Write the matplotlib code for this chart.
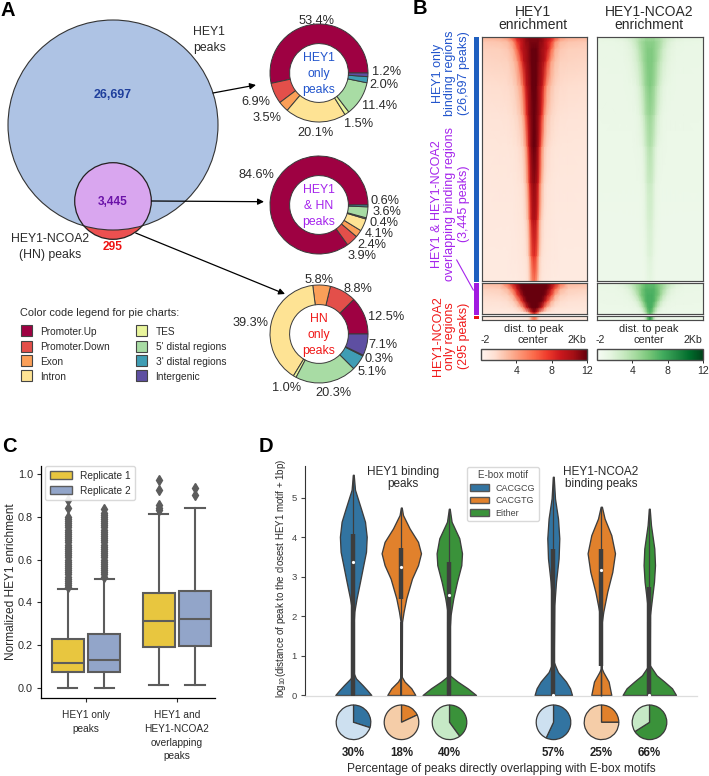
import numpy as np
import matplotlib
matplotlib.use("Agg")
import matplotlib.pyplot as plt
from matplotlib.cm import ScalarMappable
from matplotlib.colors import Normalize
from matplotlib.patches import Circle, Patch, Rectangle

plt.rcParams["font.family"] = ["Liberation Sans", "DejaVu Sans"]
plt.rcParams["mathtext.fontset"] = "custom"
plt.rcParams["mathtext.rm"] = "Liberation Sans"

W, H = 709, 776
TEXT = "#2a2a2a"

# panel A
venn_counts = ["26,697", "3,445", "295"]
region_names = ["Promoter.Up", "Promoter.Down", "Exon", "Intron", "TES",
                "5' distal regions", "3' distal regions", "Intergenic"]
region_colors = ["#9e0142", "#e34f4a", "#fb9f58", "#fee394", "#e9f59c",
                 "#a8dca4", "#3f9db4", "#5e4fa2"]
hey1_only = [53.4, 6.9, 3.5, 20.1, 1.5, 11.4, 2.0, 1.2]
hey1_hn = [84.6, 3.9, 2.4, 4.1, 0.4, 3.6, 0.6]
hn_only = [12.5, 8.8, 5.8, 39.3, 1.0, 20.3, 5.1, 0.3, 7.1]
hn_only_colors = region_colors[:7] + ["#3f9db4", "#5e4fa2"]

# panel B, half profiles from peak centre outwards, one row per rank
kb_from_center = [0, 0.08, 0.15, 0.22, 0.3, 0.4, 0.5, 0.65, 0.8, 1.0, 1.3, 2.0]
top_ranks = [0, 0.02, 0.05, 0.1, 0.2, 0.32, 0.45, 0.6, 0.75, 0.9, 1.0]
mid_ranks = [0, 0.2, 0.4, 0.6, 0.8, 0.95, 1.0]
low_ranks = [0, 1]
hey1_top = [
    [11.5, 11.5, 11.5, 11.5, 11, 10.5, 10, 9, 7, 4.5, 3.5, 3.2],
    [11.5, 11.5, 11.5, 11, 11, 10, 9, 7.5, 4.5, 3, 2.6, 2.4],
    [12, 12, 11.5, 11, 10.5, 10, 9, 6, 3.5, 2.5, 2.2, 2.1],
    [12, 12, 11.5, 11, 10.5, 9.5, 7, 4, 2.8, 2.1, 2, 1.9],
    [12, 12, 11, 10.5, 9.5, 6.5, 4, 2.7, 2, 1.7, 1.6, 1.5],
    [12, 11.5, 11, 10, 7.5, 4, 2.7, 1.9, 1.6, 1.4, 1.3, 1.2],
    [12, 11.5, 10.5, 8, 4.5, 2.5, 1.8, 1.4, 1.2, 1.1, 1.1, 1],
    [11, 10.5, 9, 5.5, 3, 1.7, 1.3, 1.1, 1, 1, 1, 0.9],
    [10, 9.5, 7, 3.5, 2, 1.3, 1.1, 1, 0.9, 0.9, 0.9, 0.9],
    [8, 7, 4.5, 2.2, 1.4, 1.1, 1, 0.9, 0.9, 0.8, 0.8, 0.8],
    [5.5, 4.5, 2.8, 1.5, 1.1, 0.9, 0.9, 0.8, 0.8, 0.8, 0.8, 0.8],
]
hey1_mid = [
    [12, 12, 12, 12, 12, 12, 12, 11, 9.5, 6, 3.2, 2.8],
    [12, 12, 12, 12, 12, 12, 11.5, 9, 6, 3.2, 2.2, 2],
    [12, 12, 12, 12, 12, 11.5, 10, 7, 3.5, 2.2, 1.8, 1.6],
    [12, 12, 12, 12, 11.5, 9.5, 7, 3.5, 2.2, 1.6, 1.4, 1.3],
    [12, 12, 11.5, 10.5, 8.5, 5, 3, 1.9, 1.4, 1.2, 1.1, 1.1],
    [11, 9, 7, 4, 2.5, 1.6, 1.2, 1, 0.9, 0.9, 0.9, 0.9],
    [7, 5, 3, 1.5, 1, 0.8, 0.8, 0.8, 0.8, 0.8, 0.8, 0.8],
]
hey1_low = [
    [6, 5, 3, 1.5, 1, 0.9, 0.9, 0.8, 0.8, 0.8, 0.8, 0.8],
    [5, 4, 2, 1.2, 0.9, 0.9, 0.8, 0.8, 0.8, 0.8, 0.8, 0.8],
]
ncoa2_top = [
    [4.5, 4.5, 4.5, 4, 4, 3.6, 3.2, 2.7, 2.3, 1.8, 1.5, 1.3],
    [5.2, 5.2, 5.2, 4.8, 4.5, 4, 3.2, 2.3, 1.7, 1.3, 1.2, 1.1],
    [5.5, 5.5, 5.2, 4.8, 4.4, 3.6, 2.7, 1.9, 1.5, 1.2, 1.1, 1.1],
    [5.6, 5.6, 5.2, 4.8, 4, 3.1, 2.3, 1.7, 1.3, 1.1, 1.1, 1],
    [5.6, 5.2, 4.8, 4, 3.1, 2.2, 1.6, 1.2, 1.1, 1, 1, 1],
    [4.7, 4.4, 3.9, 3, 2.2, 1.5, 1.2, 1, 1, 1, 1, 0.9],
    [3.8, 3.4, 2.7, 2, 1.4, 1.1, 1, 0.9, 0.9, 0.9, 0.9, 0.9],
    [2.8, 2.6, 2, 1.4, 1.1, 0.9, 0.9, 0.9, 0.9, 0.9, 0.9, 0.9],
    [2.3, 2.1, 1.6, 1.2, 0.9, 0.8, 0.8, 0.8, 0.8, 0.8, 0.8, 0.8],
    [1.8, 1.6, 1.2, 0.9, 0.8, 0.8, 0.8, 0.8, 0.8, 0.8, 0.8, 0.8],
    [1.4, 1.2, 1, 0.8, 0.8, 0.8, 0.8, 0.8, 0.8, 0.8, 0.8, 0.8],
]
ncoa2_mid = [
    [6.5, 6.5, 6.5, 6, 5.6, 5, 4.5, 3.6, 2.8, 1.9, 1.3, 1.2],
    [7, 7, 7, 6.5, 6, 5, 4.2, 2.8, 1.8, 1.3, 1.1, 1],
    [7.3, 7.3, 7, 6.5, 6, 4.6, 3.2, 2, 1.4, 1.1, 1, 1],
    [7.3, 7.3, 7, 6, 4.6, 3, 2, 1.3, 1.1, 1, 1, 0.9],
    [7.3, 7, 5.5, 4.2, 2.8, 1.7, 1.2, 1, 0.9, 0.9, 0.9, 0.9],
    [7, 6, 4.2, 2.8, 1.5, 1, 0.9, 0.9, 0.8, 0.8, 0.8, 0.8],
    [6.5, 5, 3.2, 1.9, 1.2, 0.9, 0.9, 0.9, 0.8, 0.8, 0.8, 0.8],
]
ncoa2_low = [
    [9, 7, 4, 1.8, 1, 0.9, 0.8, 0.8, 0.8, 0.8, 0.8, 0.8],
    [8, 6, 3, 1.5, 0.9, 0.8, 0.8, 0.8, 0.8, 0.8, 0.8, 0.8],
]

# panel C
rep1_q1 = [0.072, 0.189]
rep1_med = [0.117, 0.314]
rep1_q3 = [0.228, 0.445]
rep1_whislo = [0.0, 0.013]
rep1_whishi = [0.462, 0.811]
rep2_q1 = [0.075, 0.193]
rep2_med = [0.13, 0.323]
rep2_q3 = [0.25, 0.454]
rep2_whislo = [0.0, 0.011]
rep2_whishi = [0.51, 0.84]
rep1_fliers = [
    [0.47, 0.48, 0.49, 0.5, 0.51, 0.52, 0.53, 0.54, 0.55, 0.56, 0.57, 0.58, 0.59, 0.6,
     0.61, 0.62, 0.63, 0.64, 0.65, 0.66, 0.67, 0.68, 0.69, 0.7, 0.71, 0.72, 0.73, 0.74,
     0.75, 0.76, 0.77, 0.78, 0.79, 0.8, 0.84, 0.88],
    [0.83, 0.84, 0.855, 0.925, 0.97],
]
rep2_fliers = [
    [0.52, 0.53, 0.54, 0.55, 0.56, 0.57, 0.58, 0.59, 0.6, 0.61, 0.62, 0.63, 0.64, 0.65,
     0.66, 0.67, 0.68, 0.69, 0.7, 0.71, 0.72, 0.73, 0.74, 0.75, 0.76, 0.77, 0.78, 0.79,
     0.8, 0.81, 0.82, 0.835],
    [0.9, 0.935],
]
c_groups = ["HEY1 only\npeaks", "HEY1 and\nHEY1-NCOA2\noverlapping\npeaks"]

# panel D, violin outlines: level, half width in px
v1_y = [5.58, 5.2, 4.72, 4.39, 4.01, 3.63, 3.29, 2.87, 2.45, 2.11, 1.85, 0.55, 0.42, 0.25, 0.12, 0.0]
v1_w = [0.4, 1.7, 7.7, 11.7, 13.4, 12.7, 10, 6.7, 3.3, 1, 0.4, 0.4, 2.7, 9.3, 14, 18]
v2_y = [4.75, 4.56, 4.22, 3.88, 3.59, 3.29, 2.95, 2.45, 2.11, 1.85, 0.46, 0.34, 0.17, 0.0]
v2_w = [0.4, 1.7, 8.3, 16.7, 19.7, 16.7, 10.7, 5, 2.3, 0.7, 0.5, 3.3, 10, 14]
v3_y = [4.72, 4.39, 3.97, 3.59, 3.29, 2.87, 2.45, 2.03, 1.69, 0.5, 0.34, 0.17, 0.0]
v3_w = [0.4, 2.3, 10, 12.7, 12, 7.7, 4, 1.3, 0.4, 0.4, 8.3, 18.3, 26.7]
v4_y = [5.53, 4.98, 4.47, 3.97, 3.46, 2.87, 2.27, 0.84, 0.58, 0.34, 0.17, 0.0]
v4_w = [0.4, 1.7, 4.7, 6, 5.3, 2.7, 1, 0.4, 4.7, 12.7, 16.7, 18.7]
v5_y = [4.77, 4.47, 4.05, 3.59, 3.12, 2.62, 2.11, 1.85, 0.67, 0.58, 0.34, 0.0]
v5_w = [0.6, 3.3, 10, 13.7, 11, 6, 2, 0.5, 0.5, 2, 7.3, 10]
v6_y = [4.72, 4.3, 3.71, 3.29, 2.87, 2.45, 2.03, 0.76, 0.5, 0.34, 0.17, 0.0]
v6_w = [0.4, 1.7, 5, 5.7, 4.7, 2.7, 0.7, 0.4, 7.3, 15, 22.7, 26.7]
v_q1 = [0.0, 2.42, 0.0, 0.0, 0.73, 0.0]
v_q3 = [4.09, 3.73, 3.37, 3.69, 3.71, 2.74]
v_med = [3.37, 3.25, 2.53, 0.0, 3.16, 0.0]
v_low_width = [2.9, 1.4, 2.9, 2.9, 1.0, 2.9]
v_pos = [-0.24, 0.0, 0.24, 0.76, 1.0, 1.24]
overlap_pct = [30, 18, 40, 57, 25, 66]
motif_names = ["CACGCG", "CACGTG", "Either"]
motif_colors = ["#3274a1", "#e1812c", "#3a923a"]
motif_light = ["#cde0f0", "#f5cda8", "#c6e9c6"]


def px_axes(x0, y0, x1, y1, **kw):
    return fig.add_axes([x0 / W, 1 - y1 / H, (x1 - x0) / W, (y1 - y0) / H], **kw)


def label(x, y, s, size, color=TEXT, ha="center", **kw):
    # va=center counts the descender room, so nudge down to match the visual centre
    page.text(x, y + 1, s, fontsize=size, color=color, ha=ha, va="center", **kw)


def donut(cx, cy, values, colors, title, color):
    ax = px_axes(cx - 50, cy - 50, cx + 50, cy + 50)
    ax.pie(values, colors=colors, radius=1, startangle=0,
           wedgeprops=dict(width=0.4, edgecolor="#3a3a3a", linewidth=0.7))
    ax.set_xlim(-50 / 49, 50 / 49)
    ax.set_ylim(-50 / 49, 50 / 49)
    for line, dy in zip(title, [-16, 0, 16]):
        label(cx, cy + dy, line, 8.8, color)


def heat_block(x0, y0, x1, y1, rows, ranks, cmap):
    ax = px_axes(x0, y0, x1, y1)
    half = np.array(rows, dtype=float)
    xs = np.array(kb_from_center)
    xs = np.hstack([-xs[:0:-1], xs])
    z = np.hstack([half[:, :0:-1], half])
    ax.pcolormesh(xs, ranks, z, shading="gouraud", cmap=cmap, vmin=0, vmax=12, rasterized=True)
    ax.set_xlim(-2, 2)
    ax.set_ylim(1, 0)
    ax.set_xticks([])
    ax.set_yticks([])
    for s in ax.spines.values():
        s.set_color("#4a4a4a")
        s.set_linewidth(0.85)


def color_bar(x0, x1, cmap):
    cax = px_axes(x0, 348.5, x1, 359.5)
    cb = fig.colorbar(ScalarMappable(Normalize(0, 12), cmap), cax=cax,
                      orientation="horizontal", ticks=[4, 8, 12])
    cb.ax.tick_params(labelsize=7.6, length=2.5, width=0.7, pad=2, colors=TEXT)
    cb.outline.set_edgecolor("#4a4a4a")
    cb.outline.set_linewidth(1.0)


fig = plt.figure(figsize=(W / 100, H / 100), dpi=100)

# page wide axes in pixel coordinates for the free text and the venn
page = fig.add_axes([0, 0, 1, 1], zorder=5)
page.set_xlim(0, W)
page.set_ylim(H, 0)
page.axis("off")
page.patch.set_alpha(0)

for letter, x, y in [("A", 8, 10), ("B", 420, 8), ("C", 9, 445), ("D", 266, 445)]:
    label(x, y, letter, 14.5, "black", fontweight="bold")

# venn
big = Circle((113, 125), 105, facecolor="#aec3e4", edgecolor="none")
page.add_patch(big)
page.add_patch(Circle((113, 201), 38.3, facecolor="#ec5050", edgecolor="none"))
purple = Circle((113, 201), 38.3, facecolor="#d9a6ef", edgecolor="none")
page.add_patch(purple)
purple.set_clip_path(big)
page.add_patch(Circle((113, 125), 105, facecolor="none", edgecolor="#333333", linewidth=0.8))
page.add_patch(Circle((113, 201), 38.3, facecolor="none", edgecolor="#222222", linewidth=0.9))
label(113, 93.5, venn_counts[0], 8.9, "#1f3f9c", fontweight="bold")
label(113, 201, venn_counts[1], 8.6, "#6a12a8", fontweight="bold")
label(113, 245.5, venn_counts[2], 8.6, "#ee1111", fontweight="bold")
label(193, 31, "HEY1", 8.8, ha="left")
label(193, 47, "peaks", 8.8, ha="left")
label(50, 238, "HEY1-NCOA2", 8.8)
label(50, 254, "(HN) peaks", 8.8)

for start, end in [((213, 93), (256, 85)), ((151.7, 201), (264, 201.7)), ((135.7, 233), (285, 294))]:
    page.annotate("", xy=end, xytext=start,
                  arrowprops=dict(arrowstyle="-|>", color="black", lw=0.9, mutation_scale=9,
                                  shrinkA=0, shrinkB=0))

# donuts
donut(319, 73, hey1_only, region_colors, ["HEY1", "only", "peaks"], "#2255cc")
donut(319, 205, hey1_hn, region_colors[:7], ["HEY1", "& HN", "peaks"], "#a524ec")
donut(319, 334, hn_only, hn_only_colors, ["HN", "only", "peaks"], "#f01818")

label_spots = [
    (hey1_only, [(317, 20), (256, 101), (267, 117), (315, 132), (359, 123), (380, 105), (384, 84), (387, 71)]),
    (hey1_hn, [(256, 174), (362, 255), (372, 244), (379, 233), (384, 222), (387, 211), (385, 200)]),
    (hn_only, [(386, 316), (358, 288), (319, 279), (251, 322), (287, 387), (333, 392), (372, 371), (379, 358), (383, 344)]),
]
for values, spots in label_spots:
    for v, (x, y) in zip(values, spots):
        label(x, y, f"{v:.1f}%", 9.2)

# colour legend
label(20, 312, "Color code legend for pie charts:", 7.9, ha="left")
legend_rows = [330.7, 346.3, 360.7, 375.7]
for i, (name, col) in enumerate(zip(region_names, region_colors)):
    sx, tx = (21, 40) if i < 4 else (136, 155.5)
    y = legend_rows[i % 4]
    page.add_patch(Rectangle((sx, y - 5.3), 10.7, 10.7, facecolor=col, edgecolor="#444444", linewidth=0.8))
    label(tx, y, name, 7.3, ha="left")

# panel B
for xc, title in [(533.3, "HEY1"), (649, "HEY1-NCOA2")]:
    label(xc, 11, title, 10)
    label(xc, 24, "enrichment", 10)
    label(xc, 328, "dist. to peak", 7.9)
    label(xc, 339, "center", 7.9)
for x, s in [(485, "-2"), (577, "2Kb"), (600.7, "-2"), (693, "2Kb")]:
    label(x, 339, s, 7.6)

heat_block(481.7, 37.3, 586.7, 281, hey1_top, top_ranks, "Reds")
heat_block(481.7, 283.3, 586.7, 314, hey1_mid, mid_ranks, "Reds")
heat_block(481.7, 316.4, 586.7, 319.6, hey1_low, low_ranks, "Reds")
heat_block(597.3, 37.3, 702.7, 281, ncoa2_top, top_ranks, "Greens")
heat_block(597.3, 283.3, 702.7, 314, ncoa2_mid, mid_ranks, "Greens")
heat_block(597.3, 316.4, 702.7, 319.6, ncoa2_low, low_ranks, "Greens")
color_bar(481.3, 586.7, "Reds")
color_bar(597.3, 702.7, "Greens")

for y0, y1, col in [(36.7, 282, "#1f5fbf"), (282.7, 315, "#a11ae0"), (315.7, 319.3, "#ee1111")]:
    page.add_patch(Rectangle((474, y0), 4.7, y1 - y0, facecolor=col, edgecolor="none"))
page.plot([456.7, 473.3], [260, 290], color="#a524ec", lw=0.8)

side_labels = [
    (73, "#2255cc", ["HEY1 only", "binding regions", "(26,697 peaks)"]),
    (204, "#a524ec", ["HEY1 & HEY1-NCOA2", "overlapping binding regions", "(3,445 peaks)"]),
    (336, "#f01818", ["HEY1-NCOA2", "only regions", "(295 peaks)"]),
]
for yc, col, lines in side_labels:
    for x, line in zip([437.5, 450.5, 463.5], lines):
        page.text(x, yc, line, color=col, fontsize=9, rotation=90, ha="center", va="center")

# panel C
axc = px_axes(40.7, 465.7, 215, 698)
axc.patch.set_alpha(0)
line_col = "#5c5c5c"
for i, (q1, med, q3, lo, hi, fl, col, off) in enumerate([
    (rep1_q1, rep1_med, rep1_q3, rep1_whislo, rep1_whishi, rep1_fliers, "#e8c63f", -0.2),
    (rep2_q1, rep2_med, rep2_q3, rep2_whislo, rep2_whishi, rep2_fliers, "#92a5c9", 0.2),
]):
    stats = [dict(q1=q1[k], med=med[k], q3=q3[k], whislo=lo[k], whishi=hi[k], fliers=fl[k]) for k in range(2)]
    axc.bxp(stats, positions=[off, 1 + off], widths=0.356, capwidths=0.21, patch_artist=True,
            manage_ticks=False,
            boxprops=dict(facecolor=col, edgecolor=line_col, linewidth=1.5),
            medianprops=dict(color=line_col, linewidth=1.5),
            whiskerprops=dict(color=line_col, linewidth=1.5),
            capprops=dict(color=line_col, linewidth=1.5),
            flierprops=dict(marker="d", markersize=5.5, markerfacecolor=line_col,
                            markeredgecolor=line_col, linestyle="none"))
axc.set_xlim(-0.5, 1.42)
axc.set_ylim(-0.048, 1.039)
axc.set_xticks([0, 1])
axc.set_xticklabels(c_groups, fontsize=7.3, color=TEXT, linespacing=1.45)
axc.set_yticks([0, 0.2, 0.4, 0.6, 0.8, 1.0])
axc.tick_params(axis="y", labelsize=7.8, length=3, width=0.8, pad=2.5, colors=TEXT)
axc.tick_params(axis="x", length=3, width=0.8, pad=6, colors=TEXT)
axc.set_ylabel("Normalized HEY1 enrichment", fontsize=8.6, color=TEXT, labelpad=1)
axc.spines[["top", "right"]].set_visible(False)
axc.spines[["left", "bottom"]].set_linewidth(0.9)
axc.legend(handles=[Patch(facecolor="#e8c63f", edgecolor=line_col, label="Replicate 1"),
                    Patch(facecolor="#92a5c9", edgecolor=line_col, label="Replicate 2")],
           loc="upper left", bbox_to_anchor=(45 / W, 1 - 466 / H), bbox_transform=fig.transFigure,
           borderaxespad=0, fontsize=7.3, handlelength=2.2, handleheight=0.85, handletextpad=0.8,
           labelspacing=0.5, borderpad=0.45, framealpha=0.9, edgecolor="#d5d5d5", fancybox=True,
           labelcolor=TEXT).set_zorder(10)

# panel D
axd = px_axes(305, 465.7, 697, 695.6)
axd.patch.set_alpha(0)
axd.set_xlim(-0.4815, 1.4785)
axd.set_ylim(-0.015, 5.81)
unit = 1 / 200  # x data units per pixel
outlines = [(v1_y, v1_w), (v2_y, v2_w), (v3_y, v3_w), (v4_y, v4_w), (v5_y, v5_w), (v6_y, v6_w)]
dark = "#3d3d3d"
for i, (ys, ws) in enumerate(outlines):
    pos = v_pos[i]
    hw = np.array(ws) * unit
    axd.fill_betweenx(ys, pos - hw, pos + hw, facecolor=motif_colors[i % 3], edgecolor=dark,
                      linewidth=0.95, zorder=2)
    axd.plot([pos, pos], [ys[-1], ys[0]], color=dark, lw=0.9, zorder=3, solid_capstyle="butt")
    axd.plot([pos, pos], [-0.03, 1.85], color=dark, lw=v_low_width[i], zorder=3, solid_capstyle="butt", clip_on=False)
    axd.plot([pos, pos], [v_q1[i], v_q3[i]], color=dark, lw=3.2, zorder=4, solid_capstyle="butt", clip_on=False)
    axd.plot(pos, v_med[i], "o", color="white", ms=2.3, zorder=5, clip_on=False, mew=0)
axd.set_xticks([])
axd.set_yticks([0, 1, 2, 3, 4, 5])
axd.tick_params(axis="y", labelsize=6.8, length=3, width=0.8, pad=3, colors="#444444")
axd.spines[["top", "right"]].set_visible(False)
axd.spines["left"].set_color("#333333")
axd.spines["left"].set_linewidth(0.8)
axd.spines["bottom"].set_color("#dddddd")
axd.spines["bottom"].set_linewidth(0.9)
leg = axd.legend(handles=[Patch(facecolor=c, edgecolor="#555555", label=n) for c, n in zip(motif_colors, motif_names)],
                 title="E-box motif", title_fontsize=7.1, fontsize=6.5, loc="upper left",
                 bbox_to_anchor=(466.7 / W, 1 - 466.7 / H), bbox_transform=fig.transFigure, borderaxespad=0,
                 handlelength=2.05, handleheight=0.75, handletextpad=0.75, labelspacing=0.38, borderpad=0.4,
                 framealpha=0.9, edgecolor="#d5d5d5", labelcolor="#444444")
leg.get_title().set_color("#444444")

label(402.7, 471, "HEY1 binding", 8.5)
label(402.7, 483, "peaks", 8.5)
label(601, 471, "HEY1-NCOA2", 8.5)
label(601, 483, "binding peaks", 8.5)
page.text(281, 578, r"log$_{10}$(distance of peak to the closest HEY1 motif + 1bp)", color=TEXT,
          fontsize=7.0, rotation=90, ha="center", va="center")

for i, pct in enumerate(overlap_pct):
    cx = 401.5 + v_pos[i] * 200
    ax = px_axes(cx - 18.3, 722.3 - 18.3, cx + 18.3, 722.3 + 18.3)
    ax.pie([pct, 100 - pct], colors=[motif_colors[i % 3], motif_light[i % 3]], startangle=90, counterclock=False,
           radius=1, wedgeprops=dict(edgecolor="#3a3a3a", linewidth=0.9))
    ax.set_xlim(-18.3 / 17.3, 18.3 / 17.3)
    ax.set_ylim(-18.3 / 17.3, 18.3 / 17.3)
    label(cx, 752, f"{pct}%", 8.3, "#222222", fontweight="bold")
label(501, 768, "Percentage of peaks directly overlapping with E-box motifs", 8.6)

plt.savefig("out.png", dpi=100)
plt.close(fig)
